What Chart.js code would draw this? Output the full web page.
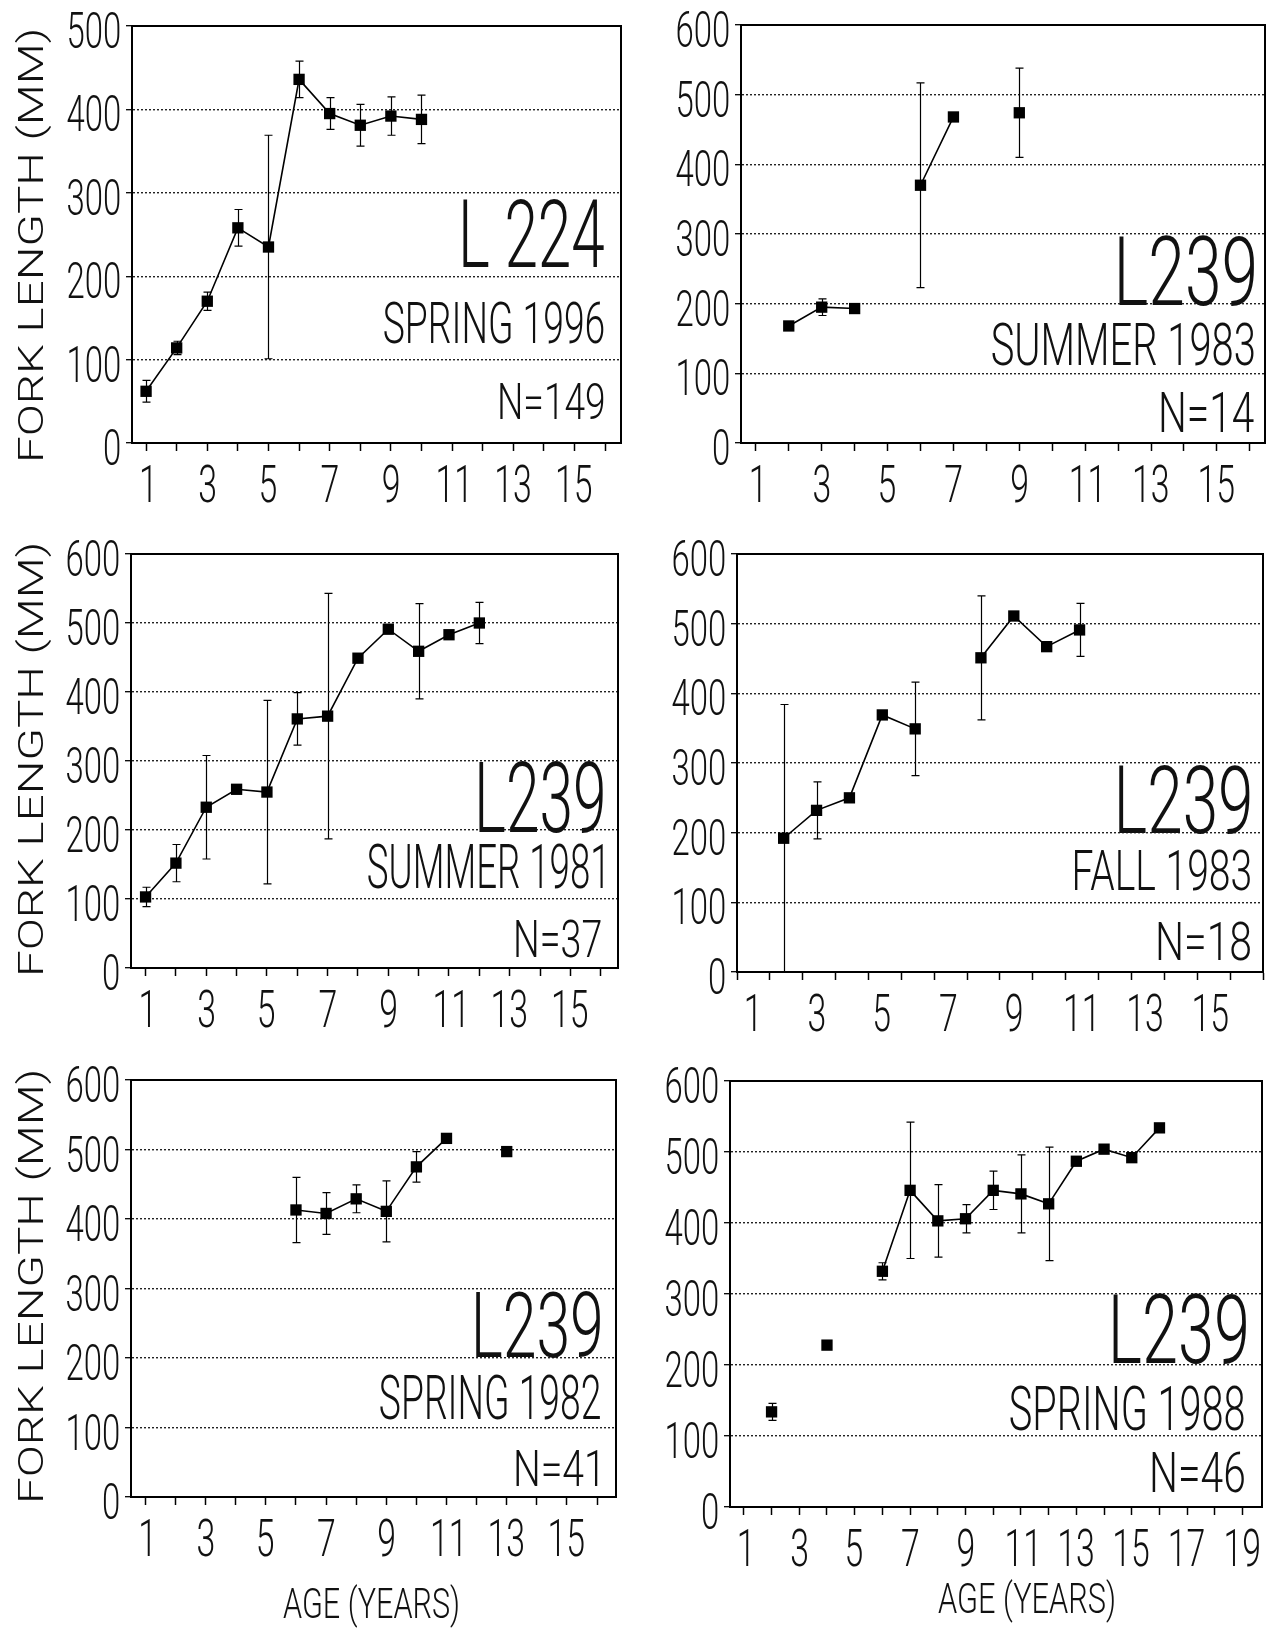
<!DOCTYPE html>
<html>
<head>
<meta charset="utf-8">
<title>Fork length at age</title>
<script src="https://cdn.jsdelivr.net/npm/chart.js@4.4.1/dist/chart.umd.min.js"></script>
<style>
  html, body { margin: 0; padding: 0; background: #fff; }
  #page { position: relative; width: 1282px; height: 1628px; overflow: hidden; }
  #page canvas { position: absolute; }
</style>
</head>
<body>
<div id="page">
  <canvas id="p1"></canvas>
  <canvas id="p2"></canvas>
  <canvas id="p3"></canvas>
  <canvas id="p4"></canvas>
  <canvas id="p5"></canvas>
  <canvas id="p6"></canvas>
</div>
<script>
// ---- data (mean fork length and error bar half-width, mm) ----
var agesL224Spr96 = [1, 2, 3, 4, 5, 6, 7, 8, 9, 10];
var lenL224Spr96  = [62, 114, 170, 258, 235, 436, 395, 381, 392, 388];
var errL224Spr96  = [13, 8, 11, 22, 134, 22, 19, 25, 23, 29];

var agesL239Sum83 = [2, 3, 4, 5, 6, 7, 8, 9];
var lenL239Sum83  = [168, 195, 193, null, 370, 468, null, 474];
var errL239Sum83  = [0, 12, 0, 0, 147, 0, 0, 64];

var agesL239Sum81 = [1, 2, 3, 4, 5, 6, 7, 8, 9, 10, 11, 12];
var lenL239Sum81  = [103, 152, 233, 259, 255, 361, 365, 449, 491, 459, 483, 500];
var errL239Sum81  = [14, 27, 75, 0, 133, 38, 178, 0, 0, 69, 0, 30];

var agesL239Fall83 = [2, 3, 4, 5, 6, 7, 8, 9, 10, 11];
var lenL239Fall83  = [192, 232, 250, 369, 349, null, 451, 511, 467, 491];
var errL239Fall83  = [192, 41, 0, 0, 67, 0, 89, 0, 0, 38];

var agesL239Spr82 = [6, 7, 8, 9, 10, 11, 12, 13];
var lenL239Spr82  = [413, 408, 429, 411, 475, 516, null, 497];
var errL239Spr82  = [47, 30, 20, 44, 22, 0, 0, 0];

var agesL239Spr88 = [2, 3, 4, 5, 6, 7, 8, 9, 10, 11, 12, 13, 14, 15, 16];
var lenL239Spr88  = [134, null, 228, null, 332, 446, 403, 406, 446, 441, 427, 487, 504, 492, 534];
var errL239Spr88  = [12, 0, 0, 0, 12, 96, 51, 20, 27, 55, 80, 0, 0, 0, 0];

// tick labels
var yTicks500 = [0, 100, 200, 300, 400, 500];
var yTicks600 = [0, 100, 200, 300, 400, 500, 600];
var xLabels16 = [1, 3, 5, 7, 9, 11, 13, 15];
var xLabels19 = [1, 3, 5, 7, 9, 11, 13, 15, 17, 19];

// panel texts
var lakeNames   = ['L 224', 'L239', 'L239', 'L239', 'L239', 'L239'];
var seasonNames = ['SPRING 1996', 'SUMMER 1983', 'SUMMER 1981', 'FALL 1983', 'SPRING 1982', 'SPRING 1988'];
var sampleSizes = ['N=149', 'N=14', 'N=37', 'N=18', 'N=41', 'N=46'];
var yTitle = 'FORK LENGTH (MM)';
var xTitle = 'AGE (YEARS)';

// ---- layout (page pixels) ----
var FONT = 'Roboto, "Liberation Sans", sans-serif';
var CAP = 0.711;      // cap height / em for Roboto
var SQUEEZE = 0.65;   // horizontal squeeze for tick numbers

var panels = [
  { id: 'p1', ages: agesL224Spr96, len: lenL224Spr96, err: errL224Spr96, yTicks: yTicks500, xLabels: xLabels16,
    region: [0, 0, 641, 510], box: [132, 26, 621, 443], xMin: 0.54, xMax: 16.52,
    txt: [[604, 267, 67, 141], [604, 343, 41, 220], [604, 419, 35, 104]], yT: 245, xT: null },
  { id: 'p2', ages: agesL239Sum83, len: lenL239Sum83, err: errL239Sum83, yTicks: yTicks600, xLabels: xLabels16,
    region: [641, 0, 641, 510], box: [741, 25, 1265, 443], xMin: 0.55, xMax: 16.46,
    txt: [[1254, 305, 68, 135], [1254, 365, 42, 262], [1254, 432, 39, 93]], yT: null, xT: null },
  { id: 'p3', ages: agesL239Sum81, len: lenL239Sum81, err: errL239Sum81, yTicks: yTicks600, xLabels: xLabels16,
    region: [0, 510, 641, 530], box: [131, 554, 618, 968], xMin: 0.52, xMax: 16.57,
    txt: [[603, 832, 70, 124], [603, 888, 43, 235], [601, 957, 37, 85]], yT: 759, xT: null },
  { id: 'p4', ages: agesL239Fall83, len: lenL239Fall83, err: errL239Fall83, yTicks: yTicks600, xLabels: xLabels16,
    region: [641, 510, 641, 530], box: [737, 554, 1263, 972], xMin: 0.58, xMax: 16.58,
    txt: [[1250, 833, 67, 131], [1250, 890, 40, 175], [1250, 960, 38, 92]], yT: null, xT: null },
  { id: 'p5', ages: agesL239Spr82, len: lenL239Spr82, err: errL239Spr82, yTicks: yTicks600, xLabels: xLabels16,
    region: [0, 1040, 641, 588], box: [131, 1080, 616, 1497], xMin: 0.52, xMax: 16.63,
    txt: [[600, 1357, 65, 124], [600, 1419, 44, 220], [598, 1486, 36, 82]], yT: 1286, xT: [283, 1618, 30, 175] },
  { id: 'p6', ages: agesL239Spr88, len: lenL239Spr88, err: errL239Spr88, yTicks: yTicks600, xLabels: xLabels19,
    region: [641, 1040, 641, 588], box: [730, 1081, 1262, 1507], xMin: 0.5, xMax: 19.7,
    txt: [[1246, 1363, 69, 133], [1244, 1430, 44, 234], [1244, 1492, 39, 92]], yT: null, xT: [938, 1613, 30, 176] }
];

function panelOf(chart) {
  for (var i = 0; i < panels.length; i++) {
    if (panels[i].id === chart.canvas.id) return i;
  }
  return -1;
}

// draw text whose ink box is fitted to a given width (or squeezed by sx)
function inkText(ctx, text, x, baseY, capH, opts) {
  var size = capH / CAP;
  ctx.font = (opts.weight || 300) + ' ' + size.toFixed(1) + 'px ' + FONT;
  ctx.textAlign = 'left';
  ctx.textBaseline = 'alphabetic';
  var m = ctx.measureText(text);
  var inkL = m.actualBoundingBoxLeft, inkR = m.actualBoundingBoxRight;
  var sx = opts.width ? opts.width / (inkL + inkR) : opts.sx;
  var w = (inkL + inkR) * sx;
  var left = opts.align === 'right' ? x - w : opts.align === 'center' ? x - w / 2 : x;
  ctx.save();
  ctx.translate(left, baseY);
  ctx.scale(sx, 1);
  ctx.fillText(text, inkL, 0);
  ctx.restore();
}

var panelPlugin = {
  id: 'panelDecor',
  beforeDatasetsDraw: function (chart) {
    var p = panels[panelOf(chart)];
    var xs = chart.scales.x, ys = chart.scales.y, ctx = chart.ctx;
    ctx.save();
    ctx.strokeStyle = '#000';
    ctx.lineWidth = 1.2;
    for (var i = 0; i < p.ages.length; i++) {
      if (p.len[i] == null || !p.err[i]) continue;
      var x = Math.round(xs.getPixelForValue(p.ages[i])) + 0.5;
      var yTop = ys.getPixelForValue(p.len[i] + p.err[i]);
      var yBot = ys.getPixelForValue(Math.max(0, p.len[i] - p.err[i]));
      ctx.beginPath();
      ctx.moveTo(x, yTop); ctx.lineTo(x, yBot);
      ctx.moveTo(x - 4, yTop); ctx.lineTo(x + 4, yTop);
      ctx.moveTo(x - 4, yBot); ctx.lineTo(x + 4, yBot);
      ctx.stroke();
    }
    ctx.restore();
  },
  afterDraw: function (chart) {
    var idx = panelOf(chart);
    var p = panels[idx];
    var xs = chart.scales.x, ys = chart.scales.y, ctx = chart.ctx, a = chart.chartArea;
    ctx.save();
    // frame
    ctx.strokeStyle = '#000';
    ctx.lineWidth = 2;
    ctx.strokeRect(a.left, a.top, a.right - a.left, a.bottom - a.top);
    ctx.fillStyle = '#111';
    // y tick numbers
    p.yTicks.forEach(function (v) {
      inkText(ctx, String(v), a.left - 12, ys.getPixelForValue(v) + 22, 36, { sx: SQUEEZE, align: 'right' });
    });
    // x tick numbers
    p.xLabels.forEach(function (v) {
      inkText(ctx, String(v), xs.getPixelForValue(v), a.bottom + 59, 37, { sx: SQUEEZE, align: 'center' });
    });
    // panel labels (page coordinates)
    ctx.translate(-p.region[0], -p.region[1]);
    var strs = [lakeNames[idx], seasonNames[idx], sampleSizes[idx]];
    for (var k = 0; k < 3; k++) {
      var t = p.txt[k];
      inkText(ctx, strs[k], t[0], t[1], t[2], { width: t[3], align: 'right' });
    }
    if (p.xT) {
      inkText(ctx, xTitle, p.xT[0], p.xT[1], p.xT[2], { width: p.xT[3], align: 'left' });
    }
    if (p.yT) {
      ctx.save();
      ctx.translate(43, p.yT);
      ctx.rotate(-Math.PI / 2);
      inkText(ctx, yTitle, 0, 0, 25, { width: 428, align: 'center', weight: 300 });
      ctx.restore();
    }
    ctx.restore();
  }
};

panels.forEach(function (p) {
  var r = p.region, b = p.box;
  var cv = document.getElementById(p.id);
  cv.width = r[2]; cv.height = r[3];
  cv.style.left = r[0] + 'px'; cv.style.top = r[1] + 'px';
  var yAxisW = 6, xAxisH = 8;
  var yMax = p.yTicks[p.yTicks.length - 1];
  var pts = p.ages.map(function (a, i) { return { x: a, y: p.len[i] }; });

  new Chart(cv.getContext('2d'), {
    type: 'line',
    data: {
      datasets: [{
        data: pts,
        borderColor: '#000',
        borderWidth: 1.6,
        backgroundColor: '#000',
        pointStyle: 'rect',
        pointRadius: 8,
        pointBackgroundColor: '#000',
        pointBorderColor: '#000',
        pointBorderWidth: 0,
        tension: 0,
        spanGaps: false,
        clip: false
      }]
    },
    options: {
      responsive: false,
      animation: false,
      events: [],
      layout: {
        padding: {
          left: b[0] - r[0] - yAxisW,
          top: b[1] - r[1],
          right: r[0] + r[2] - b[2],
          bottom: r[1] + r[3] - b[3] - xAxisH
        }
      },
      plugins: {
        legend: { display: false },
        tooltip: { enabled: false }
      },
      scales: {
        x: {
          type: 'linear',
          min: p.xMin,
          max: p.xMax,
          afterFit: function (s) { s.height = xAxisH; },
          ticks: { display: false, stepSize: 1, includeBounds: false, maxTicksLimit: 40, autoSkip: false },
          grid: { drawOnChartArea: false, drawTicks: true, tickLength: 8, tickColor: '#000', tickWidth: 1.5 },
          border: { display: true, color: '#000', width: 2 }
        },
        y: {
          min: 0,
          max: yMax,
          afterFit: function (s) { s.width = yAxisW; },
          ticks: { display: false, stepSize: 100 },
          grid: {
            color: function (c) {
              var v = c.tick ? c.tick.value : null;
              return (v === 0 || v === yMax) ? 'rgba(0,0,0,0)' : '#222';
            },
            lineWidth: 1.4,
            tickLength: 6,
            tickColor: '#000',
            tickWidth: 1.3
          },
          border: { display: true, color: '#000', width: 2, dash: [2, 2] }
        }
      }
    },
    plugins: [panelPlugin]
  });
});
</script>
</body>
</html>
